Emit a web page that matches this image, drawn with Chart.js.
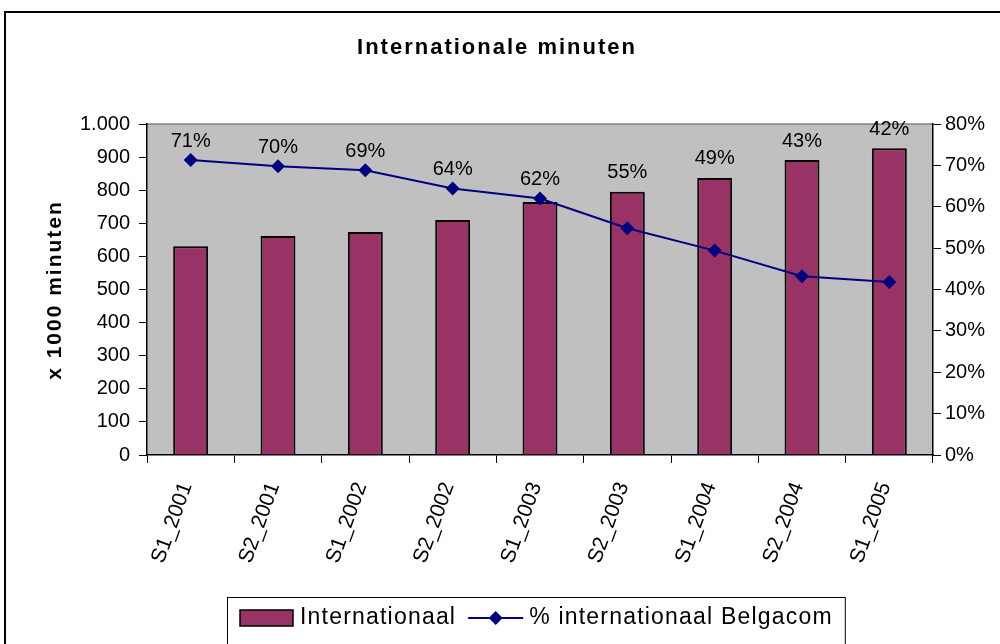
<!DOCTYPE html>
<html lang="nl">
  <head>
    <meta charset="UTF-8" />
    <title>Internationale minuten</title>
    <style>
      body {
        margin: 0;
        background: #fff;
      }
      canvas {
        display: block;
      }
    </style>
    <script src="https://cdn.jsdelivr.net/npm/chart.js"></script>
  </head>
  <body>
    <canvas id="myChart" width="1000" height="644"></canvas>

    <script>
      // values
      const periods = ['S1_2001', 'S2_2001', 'S1_2002', 'S2_2002', 'S1_2003',
        'S2_2003', 'S1_2004', 'S2_2004', 'S1_2005'];
      const minutes = [631, 662, 674, 710, 764, 795, 837, 891, 927];
      const pctBelgacom = [71.3, 69.8, 68.8, 64.4, 62.0, 54.8, 49.4, 43.2, 41.8];
      const leftTicks = [0, 100, 200, 300, 400, 500, 600, 700, 800, 900, 1000];
      const rightTicks = [0, 10, 20, 30, 40, 50, 60, 70, 80];

      const FONT = "'Liberation Sans', Arial, sans-serif";

      function dotThousands(v) {
        return String(v).replace(/\B(?=(\d{3})+(?!\d))/g, '.');
      }

      // grey plot area, frame, titles, value labels and legend
      const decorations = {
        id: 'decorations',
        beforeDraw(chart) {
          const ctx = chart.ctx;
          const a = chart.chartArea;
          ctx.save();
          ctx.fillStyle = '#fff';
          ctx.fillRect(0, 0, chart.width, chart.height);
          ctx.fillStyle = '#C0C0C0';
          ctx.fillRect(a.left, a.top, a.right - a.left, a.bottom - a.top);
          ctx.strokeStyle = '#808080';
          ctx.lineWidth = 1.5;
          ctx.beginPath();
          ctx.moveTo(a.left, a.top);
          ctx.lineTo(a.right, a.top);
          ctx.stroke();
          ctx.restore();
        },
        afterDatasetsDraw(chart) {
          const ctx = chart.ctx;
          const lineMeta = chart.getDatasetMeta(0);
          const barMeta = chart.getDatasetMeta(1);
          ctx.save();
          ctx.font = '20px ' + FONT;
          ctx.fillStyle = '#000';
          ctx.textAlign = 'center';
          ctx.textBaseline = 'middle';
          pctBelgacom.forEach((v, i) => {
            const p = lineMeta.data[i];
            const b = barMeta.data[i];
            const y = Math.min(p.y, b.y) - 19;
            ctx.fillText(Math.round(v) + '%', p.x, y);
          });
          ctx.restore();
        },
        afterDraw(chart) {
          const ctx = chart.ctx;
          const a = chart.chartArea;
          ctx.save();

          // outer frame
          ctx.strokeStyle = '#000';
          ctx.lineWidth = 2;
          ctx.strokeRect(5, 12, chart.width + 20, chart.height + 20);

          // chart title
          ctx.fillStyle = '#000';
          ctx.font = 'bold 22px ' + FONT;
          ctx.letterSpacing = '2px';
          ctx.textAlign = 'center';
          ctx.textBaseline = 'alphabetic';
          ctx.fillText('Internationale minuten', 497, 54);

          // left axis title
          ctx.save();
          ctx.translate(55, 290);
          ctx.rotate(-Math.PI / 2);
          ctx.font = 'bold 21px ' + FONT;
          ctx.letterSpacing = '2px';
          ctx.textBaseline = 'middle';
          ctx.fillText('x 1000 minuten', 0, 0);
          ctx.restore();

          // legend
          ctx.font = '23px ' + FONT;
          ctx.letterSpacing = '1.2px';
          ctx.textBaseline = 'middle';
          ctx.textAlign = 'left';
          const t1 = chart.data.datasets[1].label;
          const t2 = chart.data.datasets[0].label;
          const w1 = ctx.measureText(t1).width;
          const w2 = ctx.measureText(t2).width;
          const total = 13 + 53 + 7 + w1 + 12 + 55 + 6 + w2 + 12;
          const x0 = Math.round((a.left + a.right) / 2 - total / 2 - 4);
          const top = 597, cy = 618;
          ctx.fillStyle = '#fff';
          ctx.fillRect(x0, top, total, 60);
          ctx.strokeStyle = '#000';
          ctx.lineWidth = 1;
          ctx.strokeRect(x0 + 0.5, top + 0.5, total, 60);
          let x = x0 + 13;
          ctx.fillStyle = '#993366';
          ctx.fillRect(x, cy - 8, 53, 16);
          ctx.lineWidth = 1.5;
          ctx.strokeRect(x, cy - 8, 53, 16);
          x += 53 + 7;
          ctx.fillStyle = '#000';
          ctx.fillText(t1, x, cy);
          x += w1 + 12;
          ctx.strokeStyle = '#000080';
          ctx.lineWidth = 2;
          ctx.beginPath();
          ctx.moveTo(x, cy);
          ctx.lineTo(x + 55, cy);
          ctx.stroke();
          ctx.fillStyle = '#000080';
          ctx.beginPath();
          ctx.moveTo(x + 27.5, cy - 7);
          ctx.lineTo(x + 34.5, cy);
          ctx.lineTo(x + 27.5, cy + 7);
          ctx.lineTo(x + 20.5, cy);
          ctx.closePath();
          ctx.fill();
          x += 55 + 6;
          ctx.fillStyle = '#000';
          ctx.fillText(t2, x, cy);

          ctx.restore();
        }
      };

      const ctx = document.getElementById('myChart').getContext('2d');

      const myChart = new Chart(ctx, {
        type: 'bar',
        data: {
          labels: periods,
          datasets: [
            {
              type: 'line',
              label: '% internationaal Belgacom',
              data: pctBelgacom,
              yAxisID: 'yR',
              borderColor: '#000080',
              backgroundColor: '#000080',
              borderWidth: 2,
              pointStyle: 'rectRot',
              pointRadius: 7,
              pointBorderWidth: 0,
              tension: 0,
              fill: false,
              order: 0
            },
            {
              label: 'Internationaal',
              data: minutes,
              yAxisID: 'y',
              backgroundColor: '#993366',
              borderColor: '#000',
              borderWidth: 2,
              barPercentage: 0.4,
              categoryPercentage: 1,
              order: 1
            }
          ]
        },
        options: {
          responsive: false,
          animation: false,
          layout: {
            padding: { top: 124, left: 0, right: 0, bottom: 0 }
          },
          plugins: {
            legend: { display: false },
            title: { display: false },
            tooltip: { enabled: false }
          },
          scales: {
            x: {
              grid: {
                display: true,
                drawOnChartArea: false,
                drawTicks: true,
                tickLength: 8,
                color: '#000'
              },
              border: { display: true, color: '#000', width: 1.5 },
              ticks: {
                color: '#000',
                font: { family: FONT, size: 21 },
                minRotation: 70,
                maxRotation: 70,
                padding: 16,
                labelOffset: -4
              },
              afterFit(s) { s.height = 644 - 455; }
            },
            y: {
              position: 'left',
              min: 0,
              max: 1000,
              afterBuildTicks(s) { s.ticks = leftTicks.map(v => ({ value: v })); },
              grid: {
                drawOnChartArea: false,
                drawTicks: true,
                tickLength: 8,
                color: '#000'
              },
              border: { display: true, color: '#000', width: 1.5 },
              ticks: {
                color: '#000',
                font: { family: FONT, size: 20 },
                padding: 9,
                callback: v => dotThousands(v)
              },
              afterFit(s) { s.width = 147; }
            },
            yR: {
              position: 'right',
              min: 0,
              max: 80,
              afterBuildTicks(s) { s.ticks = rightTicks.map(v => ({ value: v })); },
              grid: {
                drawOnChartArea: false,
                drawTicks: true,
                tickLength: 8,
                color: '#000'
              },
              border: { display: true, color: '#000', width: 1.5 },
              ticks: {
                color: '#000',
                font: { family: FONT, size: 20 },
                padding: 4,
                callback: v => v + '%'
              },
              afterFit(s) { s.width = 1000 - 933; }
            }
          }
        },
        plugins: [decorations]
      });
    </script>
  </body>
</html>
